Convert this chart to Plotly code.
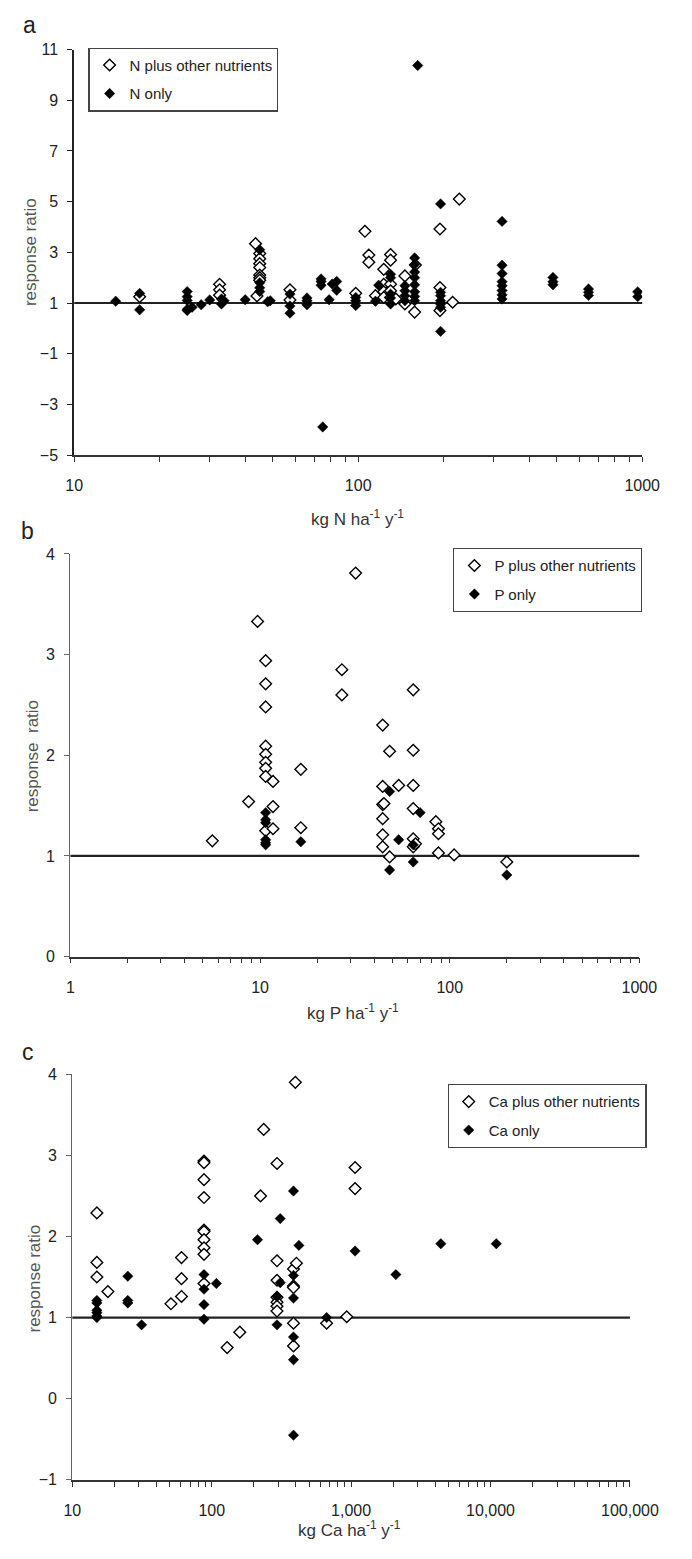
import plotly.graph_objects as go

# ---------------- data ----------------
# Panel a : N additions
a_plus_x = [17, 32.5, 32.5, 32.5, 43.5, 45, 45, 45, 45, 45, 45, 45, 44, 57.5, 57.5, 98, 105.6, 109, 109, 115,
            123, 123, 123, 123, 130, 130, 130, 130, 130, 135.6, 146, 146, 159, 158, 194, 194, 194, 215, 227]
a_plus_y = [1.25, 1.74, 1.52, 1.31, 3.34, 2.95, 2.75, 2.55, 2.4, 2.1, 2.0, 1.9, 1.28, 1.52, 1.12, 1.38, 3.83, 2.89, 2.61, 1.29,
            2.33, 1.74, 1.44, 1.22, 2.91, 2.69, 1.74, 1.48, 1.22, 1.16, 2.07, 0.96, 2.5, 0.64, 3.92, 1.61, 0.70, 1.03, 5.1]
a_only_x = [14, 17, 17, 25, 25, 25, 25, 25, 26, 28, 30, 33, 33, 33.7, 40, 45, 45, 45, 45, 49, 48,
            57.5, 57.5, 57.5, 66, 66, 66, 74, 74, 74, 75, 79, 81, 84, 84, 98, 98, 98, 115, 118,
            130, 130, 130, 130, 130, 146, 146, 146, 146, 158, 158, 158, 158, 158, 158, 158, 158, 162,
            195, 195, 195, 195, 195, 195, 195, 321, 321, 321, 321, 321, 321, 321, 321,
            485, 485, 485, 647, 647, 647, 964, 964]
a_only_y = [1.07, 1.38, 0.73, 1.45, 1.25, 1.1, 0.75, 0.7, 0.83, 0.93, 1.12, 1.16, 0.96, 1.09, 1.13, 3.1, 1.8, 1.6, 1.45, 1.09, 1.05,
            1.35, 0.88, 0.6, 1.2, 1.09, 0.93, 1.95, 1.85, 1.7, -3.89, 1.13, 1.75, 1.85, 1.5, 1.22, 1.09, 0.9, 1.07, 1.7,
            2.13, 2.0, 1.35, 1.2, 0.96, 1.68, 1.48, 1.29, 1.09, 2.78, 2.52, 2.22, 2.0, 1.72, 1.44, 1.26, 1.09, 10.37,
            4.91, 1.42, 1.29, 1.09, 0.96, 0.83, -0.12, 4.22, 2.49, 2.16, 1.84, 1.68, 1.49, 1.32, 1.16,
            2.01, 1.84, 1.72, 1.55, 1.42, 1.3, 1.44, 1.25]

# Panel b : P additions
b_plus_x = [5.6, 8.7, 9.7, 10.7, 10.7, 10.7, 10.7, 10.7, 10.7, 10.7, 10.7, 10.7, 11.7, 11.7, 11.7, 16.4, 16.4,
            27, 27, 31.9, 44.3, 44.3, 44.3, 44.3, 44.3, 44.3, 45, 48.2, 48.2, 53.8,
            64.2, 64.2, 64.2, 64.2, 64.2, 64.2, 66, 84.5, 87.2, 87.2, 87.2, 105.5, 200]
b_plus_y = [1.15, 1.54, 3.33, 2.94, 2.71, 2.48, 2.09, 2.01, 1.93, 1.87, 1.79, 1.25, 1.74, 1.49, 1.27, 1.86, 1.28,
            2.85, 2.60, 3.81, 2.30, 1.69, 1.51, 1.37, 1.21, 1.09, 1.52, 2.04, 0.99, 1.70,
            2.65, 2.05, 1.70, 1.47, 1.17, 1.09, 1.12, 1.34, 1.27, 1.22, 1.03, 1.01, 0.94]
b_only_x = [10.7, 10.7, 10.7, 10.7, 10.7, 10.7, 16.4, 48.2, 48.2, 53.8, 64.2, 64.2, 69.8, 200]
b_only_y = [1.43, 1.36, 1.33, 1.16, 1.13, 1.11, 1.14, 1.64, 0.86, 1.16, 1.11, 0.94, 1.43, 0.81]

# Panel c : Ca additions
c_plus_x = [15, 15, 15, 18, 51, 60.7, 60.7, 60.7, 88, 88, 88, 88, 88, 88, 88, 88, 88, 88, 129, 159, 224, 236,
            294, 294, 294, 294, 294, 294, 294, 386, 386, 386, 386, 386, 398, 405, 667, 930, 1067, 1067]
c_plus_y = [2.29, 1.68, 1.50, 1.32, 1.17, 1.74, 1.48, 1.26, 2.93, 2.91, 2.70, 2.48, 2.08, 2.06, 1.96, 1.86, 1.78, 1.42, 0.63, 0.82, 2.50, 3.32,
            2.90, 1.70, 1.46, 1.25, 1.19, 1.14, 1.08, 1.60, 1.39, 1.37, 0.93, 0.65, 3.90, 1.67, 0.93, 1.01, 2.85, 2.59]
c_only_x = [15, 15, 15, 15, 15, 15, 25, 25, 25, 31.4, 88, 88, 88, 88, 108, 213, 294, 294, 310, 310,
            386, 386, 386, 386, 386, 386, 422, 667, 1067, 2094, 4400, 11000]
c_only_y = [1.21, 1.18, 1.09, 1.06, 1.02, 1.0, 1.51, 1.21, 1.18, 0.91, 1.53, 1.35, 1.16, 0.98, 1.42, 1.96, 1.26, 0.91, 2.22, 1.43,
            2.56, 1.52, 1.24, 0.76, 0.48, -0.45, 1.89, 1.0, 1.82, 1.53, 1.91, 1.91]

REF_VALUE = 1  # no-effect reference line

a_yticks = [-5, -3, -1, 1, 3, 5, 7, 9, 11]
a_xticks = [10, 100, 1000]
b_yticks = [0, 1, 2, 3, 4]
b_xticks = [1, 10, 100, 1000]
c_yticks = [-1, 0, 1, 2, 3, 4]
c_xticks = [10, 100, 1000, 10000, 100000]
c_xticklabels = ["10", "100", "1,000", "10,000", "100,000"]

# ---------------- figure ----------------
W, H = 692, 1559
FONT = "Liberation Sans Narrow, Arial Narrow, Liberation Sans, Arial, sans-serif"
AX = "#333333"


def px_x(p):
    return p / W


def px_y(p):
    return 1 - p / H


fig = go.Figure()

panels = [
    dict(xa="x", ya="y", leg="legend", open_x=a_plus_x, open_y=a_plus_y, fill_x=a_only_x, fill_y=a_only_y,
         open_name="N plus other nutrients", fill_name="N only"),
    dict(xa="x2", ya="y2", leg="legend2", open_x=b_plus_x, open_y=b_plus_y, fill_x=b_only_x, fill_y=b_only_y,
         open_name="P plus other nutrients", fill_name="P only"),
    dict(xa="x3", ya="y3", leg="legend3", open_x=c_plus_x, open_y=c_plus_y, fill_x=c_only_x, fill_y=c_only_y,
         open_name="Ca plus other nutrients", fill_name="Ca only"),
]

for i, p in enumerate(panels):
    fig.add_trace(go.Scatter(
        x=p["open_x"], y=p["open_y"], mode="markers", name=p["open_name"],
        xaxis=p["xa"], yaxis=p["ya"], legend=p["leg"], legendgroup=f"o{i}",
        marker=dict(symbol="diamond", size=9, color="white", line=dict(color="black", width=1.4)),
    ))
    fig.add_trace(go.Scatter(
        x=p["fill_x"], y=p["fill_y"], mode="markers", name=p["fill_name"],
        xaxis=p["xa"], yaxis=p["ya"], legend=p["leg"], legendgroup=f"f{i}",
        marker=dict(symbol="diamond", size=8, color="black", line=dict(color="black", width=0.5)),
    ))
    fig.add_shape(type="line", xref=f"{p['xa']} domain", yref=p["ya"], x0=0, x1=1,
                  y0=REF_VALUE, y1=REF_VALUE, line=dict(color="#222222", width=2.2), layer="below")

tickfont = dict(family=FONT, size=16, color="#222222")


def xaxis(domain, anchor, rng, tickvals, ticktext=None):
    d = dict(type="log", domain=domain, anchor=anchor, range=rng, showgrid=False, zeroline=False,
             showline=True, linecolor=AX, linewidth=1.6, ticks="outside", ticklen=5, tickcolor=AX,
             tickvals=tickvals, tickfont=tickfont, ticklabelstandoff=10,
             minor=dict(ticks="outside", ticklen=5, tickcolor=AX, dtick="D1", showgrid=False))
    if ticktext is not None:
        d["ticktext"] = ticktext
    return d


def yaxis(domain, anchor, rng, tickvals, color=AX, width=1.6):
    return dict(domain=domain, anchor=anchor, range=rng, showgrid=False, zeroline=False,
                showline=True, linecolor=color, linewidth=width, ticks="outside", ticklen=5, tickcolor=color,
                tickvals=tickvals, tickfont=tickfont, ticklabelstandoff=6)


legend_common = dict(bgcolor="white", bordercolor="#444444", borderwidth=1.2, xanchor="left", yanchor="top",
                     font=dict(family=FONT, size=15, color="#222222"), tracegroupgap=6,
                     itemwidth=30)

fig.update_layout(
    width=W, height=H, margin=dict(l=0, r=0, t=0, b=0), paper_bgcolor="white", plot_bgcolor="white",
    xaxis=xaxis([px_x(69), px_x(670)], "y", [1, 3], a_xticks),
    yaxis=yaxis([px_y(452), px_y(42)], "x", [-5, 11], a_yticks, color="#222222", width=1.8),
    xaxis2=xaxis([px_x(65), px_x(667)], "y2", [0, 3], b_xticks),
    yaxis2=yaxis([px_y(959), px_y(552)], "x2", [0, 4], b_yticks, color="#666666", width=1.4),
    xaxis3=xaxis([px_x(67), px_x(657)], "y3", [1, 5], c_xticks, c_xticklabels),
    yaxis3=yaxis([px_y(1488), px_y(1078)], "x3", [-1, 4], c_yticks, color="#666666", width=1.4),
    legend=dict(legend_common, x=px_x(84), y=px_y(40)),
    legend2=dict(legend_common, x=px_x(470), y=px_y(546)),
    legend3=dict(legend_common, x=px_x(464), y=px_y(1088)),
    showlegend=True,
)

title_font = dict(family=FONT, size=17, color="#333333")
ylab_font = dict(family="Liberation Sans, Arial, sans-serif", size=17, color="#555555")
letter_font = dict(family="Liberation Sans, Arial, sans-serif", size=23, color="#222222")

annos = [
    # panel letters
    dict(text="a", x=px_x(22), y=px_y(17), font=letter_font),
    dict(text="b", x=px_x(20), y=px_y(529), font=letter_font),
    dict(text="c", x=px_x(20), y=px_y(1056), font=letter_font),
    # y titles
    dict(text="response ratio", x=px_x(23), y=px_y(247), textangle=-90, font=ylab_font),
    dict(text="response  ratio", x=px_x(25), y=px_y(757), textangle=-90, font=ylab_font),
    dict(text="response ratio", x=px_x(27), y=px_y(1285), textangle=-90, font=ylab_font),
    # x titles
    dict(text="kg N ha<sup>-1</sup> y<sup>-1</sup>", x=px_x(369), y=px_y(516), font=title_font),
    dict(text="kg P ha<sup>-1</sup> y<sup>-1</sup>", x=px_x(364), y=px_y(1015), font=title_font),
    dict(text="kg Ca ha<sup>-1</sup> y<sup>-1</sup>", x=px_x(360), y=px_y(1538), font=title_font),
]
for a in annos:
    a.update(xref="paper", yref="paper", showarrow=False, xanchor="center", yanchor="middle")
    fig.add_annotation(**a)

fig.write_html("out.html")
